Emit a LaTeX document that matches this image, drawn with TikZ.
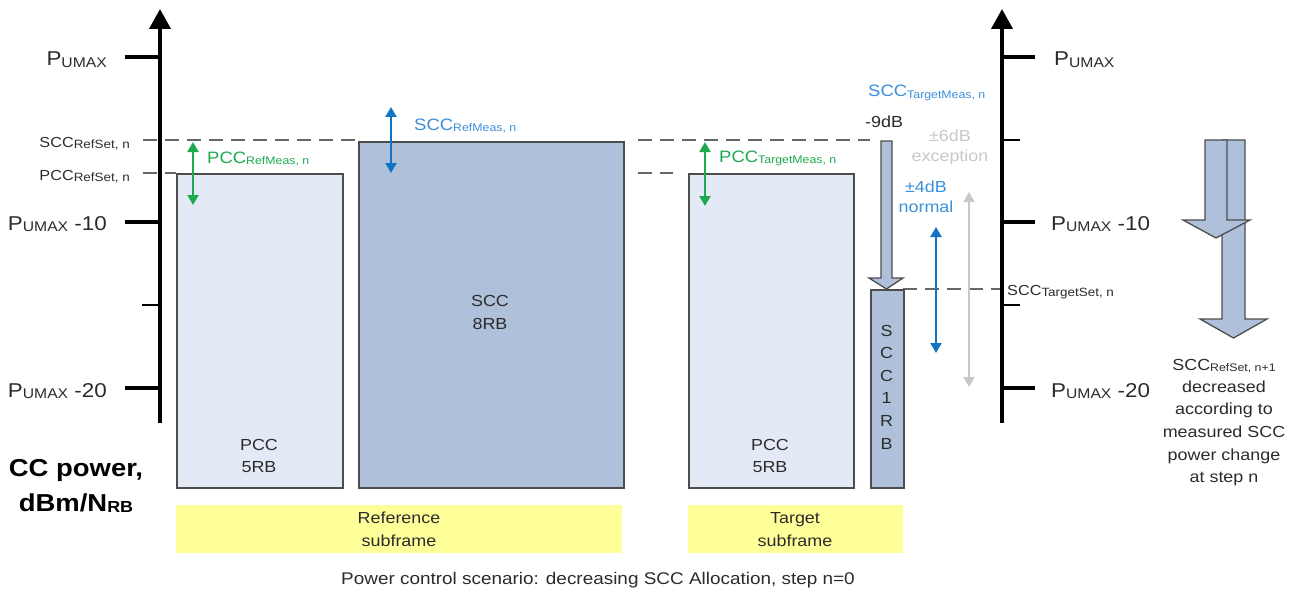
\documentclass[tikz,border=0pt]{standalone}
\usepackage{fontspec}
\setmainfont{Liberation Sans}[FakeStretch=1.12]
\usetikzlibrary{arrows.meta}
\definecolor{pccfill}{HTML}{E4EAF5}
\definecolor{sccfill}{HTML}{AFC1DA}
\definecolor{boxline}{HTML}{4D4D4D}
\definecolor{dashgray}{HTML}{666666}
\definecolor{mgreen}{HTML}{1DAA4E}
\definecolor{mblue}{HTML}{1373C5}
\definecolor{lblue}{HTML}{3B8FD9}
\definecolor{lgray}{HTML}{C8C8C8}
\definecolor{yel}{HTML}{FFFF99}
\definecolor{txtc}{HTML}{2B2B2B}
\newcommand{\sbs}[2]{{\fontsize{#1}{#1}\selectfont\raisebox{-1.5pt}{#2}}}
\newcommand{\pu}{\fontsize{20}{23}\selectfont P\sbs{14}{UMAX}}
\newcommand{\fsz}[1]{\fontsize{#1}{#1}\selectfont}
\begin{document}
\begin{tikzpicture}[x=1pt,y=-1pt,
  axisline/.style={line width=4pt, -{Triangle[length=20pt,width=21pt]}},
  major/.style={line width=4pt},
  minor/.style={line width=2pt},
  dline/.style={dashgray, line width=2pt, dash pattern=on 14pt off 8pt},
  meas/.style={line width=2.2pt, {Triangle[length=10pt,width=11pt]}-{Triangle[length=10pt,width=11pt]}},
  box/.style={draw=boxline, line width=1.6pt, inner sep=0pt, anchor=north west},
  ybox/.style={fill=yel, inner sep=0pt, anchor=north west},
  bigarrow/.style={fill=sccfill, draw=boxline, line width=1.3pt, line join=miter},
  lab/.style={inner sep=0pt, text=txtc},
  body/.style={inner sep=0pt, text=txtc, font=\fsz{16}}
]
\useasboundingbox (0,0) rectangle (1300,599);

% dashed level lines
\coordinate (d1a) at (143,140); \coordinate (d1b) at (358,140);
\coordinate (d2a) at (143,173); \coordinate (d2b) at (176,173);
\coordinate (d3a) at (638,140); \coordinate (d3b) at (870,140);
\coordinate (d4a) at (638,173); \coordinate (d4b) at (673,173);
\coordinate (d5a) at (903,289); \coordinate (d5b) at (1002,289);
\draw[dline] (d1a) -- (d1b);
\draw[dline] (d2a) -- (d2b);
\draw[dline] (d3a) -- (d3b);
\draw[dline] (d4a) -- (d4b);
\draw[dline] (d5a) -- (d5b);

% boxes
\node[box, fill=pccfill, minimum width=166pt, minimum height=314pt] (pccref) at (176,173) {};
\node[box, fill=sccfill, minimum width=265pt, minimum height=346pt] (sccref) at (358,141) {};
\node[box, fill=pccfill, minimum width=165pt, minimum height=314pt] (pcctgt) at (688,173) {};
\node[box, fill=sccfill, minimum width=33pt, minimum height=198pt] (scctgt) at (870,289) {};

% yellow boxes
\node[ybox, minimum width=446pt, minimum height=48pt] (yref) at (176,505) {};
\node[ybox, minimum width=215pt, minimum height=48pt] (ytgt) at (688,505) {};

% axes
\coordinate (axLb) at (160,423); \coordinate (axLt) at (160,9);
\coordinate (axRb) at (1002,423); \coordinate (axRt) at (1002,9);
\draw[axisline] (axLb) -- (axLt);
\draw[axisline] (axRb) -- (axRt);
\draw[major] (125,57) -- (160,57);
\draw[major] (125,222) -- (160,222);
\draw[major] (125,388) -- (160,388);
\draw[minor] (142,305) -- (160,305);
\draw[major] (1002,57) -- (1035,57);
\draw[major] (1002,222) -- (1035,222);
\draw[major] (1002,388) -- (1035,388);
\draw[minor] (1002,140) -- (1020,140);
\draw[minor] (1002,305) -- (1020,305);

% big target arrow
\draw[bigarrow] (881,141) -- (892,141) -- (892,278) -- (903,278) -- (886.5,289) -- (869,278) -- (881,278) -- cycle;

% right arrows
\draw[bigarrow] (1222,140) -- (1245,140) -- (1245,319) -- (1267,319) -- (1233.5,338) -- (1200,319) -- (1222,319) -- cycle;
\draw[bigarrow] (1205,140) -- (1227,140) -- (1227,220) -- (1250,220) -- (1216,238) -- (1183,220) -- (1205,220) -- cycle;

% measurement arrows
\coordinate (g1a) at (193,142); \coordinate (g1b) at (193,205);
\coordinate (b1a) at (391,107); \coordinate (b1b) at (391,173);
\coordinate (g2a) at (705,142); \coordinate (g2b) at (705,206);
\coordinate (b2a) at (936,227); \coordinate (b2b) at (936,353);
\coordinate (e1a) at (969,192); \coordinate (e1b) at (969,387);
\draw[meas, mgreen] (g1a) -- (g1b);
\draw[meas, mblue] (b1a) -- (b1b);
\draw[meas, mgreen] (g2a) -- (g2b);
\draw[meas, mblue] (b2a) -- (b2b);
\draw[meas, lgray, line width=2pt] (e1a) -- (e1b);

% left labels
\node[lab, anchor=base east] (lp0) at (107,66) {\pu};
\node[lab, anchor=base east] (lp10) at (107,230) {\pu\ -10};
\node[lab, anchor=base east] (lp20) at (107,397) {\pu\ -20};
\node[lab, anchor=base east] (lsccrs) at (130,147) {\fsz{14.5}SCC\sbs{12}{RefSet, n}};
\node[lab, anchor=base east] (lpccrs) at (130,180) {\fsz{14.5}PCC\sbs{12}{RefSet, n}};
\node[inner sep=0pt, anchor=base] (ccp1) at (76,476) {\fsz{24.5}\bfseries CC power,};
\node[inner sep=0pt, anchor=base] (ccp2) at (76,511) {\fsz{24.5}\bfseries dBm/N\sbs{16}{RB}};

% right labels
\node[lab, anchor=base west] (rp0) at (1054,66) {\pu};
\node[lab, anchor=base west] (rp10) at (1051,230) {\pu\ -10};
\node[lab, anchor=base west] (rp20) at (1051,397) {\pu\ -20};
\node[lab, anchor=base west] (rscct) at (1007,295) {\fsz{14.5}SCC\sbs{12}{TargetSet, n}};

% measurement labels
\node[inner sep=0pt, anchor=base west, text=mgreen] (lg1) at (207,163) {\fsz{16.5}PCC\sbs{11}{RefMeas, n}};
\node[inner sep=0pt, anchor=base west, text=lblue] (lb1) at (414,130) {\fsz{16.5}SCC\sbs{11}{RefMeas, n}};
\node[inner sep=0pt, anchor=base west, text=mgreen] (lg2) at (719,162) {\fsz{16.5}PCC\sbs{11}{TargetMeas, n}};
\node[inner sep=0pt, anchor=base west, text=lblue] (lb2) at (868,97) {\fsz{16.5}SCC\sbs{11}{TargetMeas, n}};
\node[body, anchor=base west] (m9) at (865,128) {-9dB};
\node[body, anchor=base, text=lgray] (e6a) at (950,142) {±6dB};
\node[body, anchor=base, text=lgray] (e6b) at (950,161) {exception};
\node[body, anchor=base, text=lblue] (n4a) at (926,192) {±4dB};
\node[body, anchor=base, text=lblue] (n4b) at (926,212) {normal};

% box texts
\node[body, anchor=base] (t1) at (490,306) {SCC};
\node[body, anchor=base] (t2) at (490,329) {8RB};
\node[body, anchor=base] (t3) at (259,450) {PCC};
\node[body, anchor=base] (t4) at (259,472) {5RB};
\node[body, anchor=base] (t5) at (770,450) {PCC};
\node[body, anchor=base] (t6) at (770,472) {5RB};
\foreach \ch [count=\i] in {S,C,C,1,R,B}
  \node[body, anchor=base] (v\i) at (886.5,313.5+22.6*\i) {\ch};

% yellow box texts
\node[body, anchor=base] (yr1) at (399,523) {Reference};
\node[body, anchor=base] (yr2) at (399,546) {subframe};
\node[body, anchor=base] (yt1) at (795,523) {Target};
\node[body, anchor=base] (yt2) at (795,546) {subframe};

% right explanation
\node[body, anchor=base] (r1) at (1224,370) {SCC\sbs{11}{RefSet, n+1}};
\node[body, anchor=base] (r2) at (1224,392) {decreased};
\node[body, anchor=base] (r3) at (1224,414) {according to};
\node[body, anchor=base] (r4) at (1224,437) {measured SCC};
\node[body, anchor=base] (r5) at (1224,460) {power change};
\node[body, anchor=base] (r6) at (1224,482) {at step n};

% caption
\node[inner sep=0pt, anchor=base, text=txtc, font=\fsz{16.9}] (cap) at (598,584) {Power control scenario: decreasing SCC Allocation, step n=0};
\end{tikzpicture}
\end{document}
